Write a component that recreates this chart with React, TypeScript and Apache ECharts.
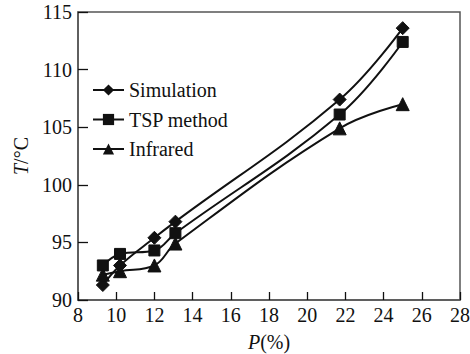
import React, { useEffect, useRef } from "react";
import * as echarts from "echarts";

// Loading P (%) at which the temperature was measured
const loadP = [9.3, 10.2, 12.0, 13.1, 21.7, 25.0];

// Temperature T (°C) by method
const simulation = [91.3, 93.0, 95.4, 96.8, 107.4, 113.6];
const tspMethod = [93.0, 94.0, 94.3, 95.8, 106.1, 112.4];
const infrared = [92.2, 92.5, 93.0, 94.9, 104.9, 107.0];

const seriesNames = ["Simulation", "TSP method", "Infrared"];

const FONT = '"Times New Roman", "Liberation Serif", serif';
const INK = "#111";
const FS = 20;

export default function App() {
  const ref = useRef<HTMLDivElement>(null);

  useEffect(() => {
    if (!ref.current) return;
    const chart = echarts.init(ref.current, undefined, { renderer: "svg" });

    const pairs = (ys: number[]) => loadP.map((x, i) => [x, ys[i]]);
    const mk = (name: string, ys: number[], symbol: string, size: number) => ({
      name,
      type: "line",
      data: pairs(ys),
      smooth: 0.4,
      symbol,
      symbolSize: size,
      showSymbol: true,
      lineStyle: { color: INK, width: 2 },
      itemStyle: { color: INK, borderColor: INK },
    });

    const plain = { fontFamily: FONT, fontSize: FS, color: INK };
    const richStyle = {
      ...plain,
      rich: { n: { ...plain }, i: { ...plain, fontStyle: "italic" } },
    };
    const asRich = (v: string | number) => `{n|${v}}`;

    chart.setOption({
      animation: false,
      backgroundColor: "#fff",
      textStyle: { fontFamily: FONT, color: INK },
      grid: {
        left: 78,
        right: 10,
        top: 12,
        bottom: 54,
        outerBoundsMode: "none",
        containLabel: false,
        show: true,
        borderColor: "#555",
        borderWidth: 1.5,
        backgroundColor: "transparent",
      },
      legend: {
        orient: "vertical",
        left: 92,
        top: 80,
        padding: 0,
        itemWidth: 31,
        itemHeight: 14,
        itemGap: 9.5,
        data: seriesNames,
        formatter: asRich,
        textStyle: { ...richStyle, lineHeight: 20 },
      },
      xAxis: {
        type: "value",
        min: 8,
        max: 28,
        interval: 2,
        name: "{i|P}{n|(%)}",
        nameLocation: "middle",
        nameGap: 32,
        nameTextStyle: richStyle,
        axisLine: { show: true, lineStyle: { color: "#555", width: 1.5 } },
        axisTick: { show: true, inside: true, length: 8, lineStyle: { color: INK, width: 1.3 } },
        axisLabel: { ...richStyle, margin: 5, formatter: asRich },
        splitLine: { show: false },
      },
      yAxis: {
        type: "value",
        min: 90,
        max: 115,
        interval: 5,
        name: "{i|T}{n|/°C}",
        nameLocation: "middle",
        nameRotate: 90,
        nameGap: 40,
        nameTextStyle: richStyle,
        axisLine: { show: true, lineStyle: { color: "#555", width: 1.5 } },
        axisTick: { show: true, inside: true, length: 10, lineStyle: { color: INK, width: 1.3 } },
        axisLabel: { ...richStyle, margin: 6, formatter: asRich },
        splitLine: { show: false },
      },
      series: [
        mk(seriesNames[0], simulation, "diamond", 13),
        mk(seriesNames[1], tspMethod, "rect", 11),
        mk(seriesNames[2], infrared, "triangle", 13),
      ],
    });

    return () => chart.dispose();
  }, []);

  return <div ref={ref} style={{ width: 470, height: 354, position: "absolute", left: 0, top: 0 }} />;
}
